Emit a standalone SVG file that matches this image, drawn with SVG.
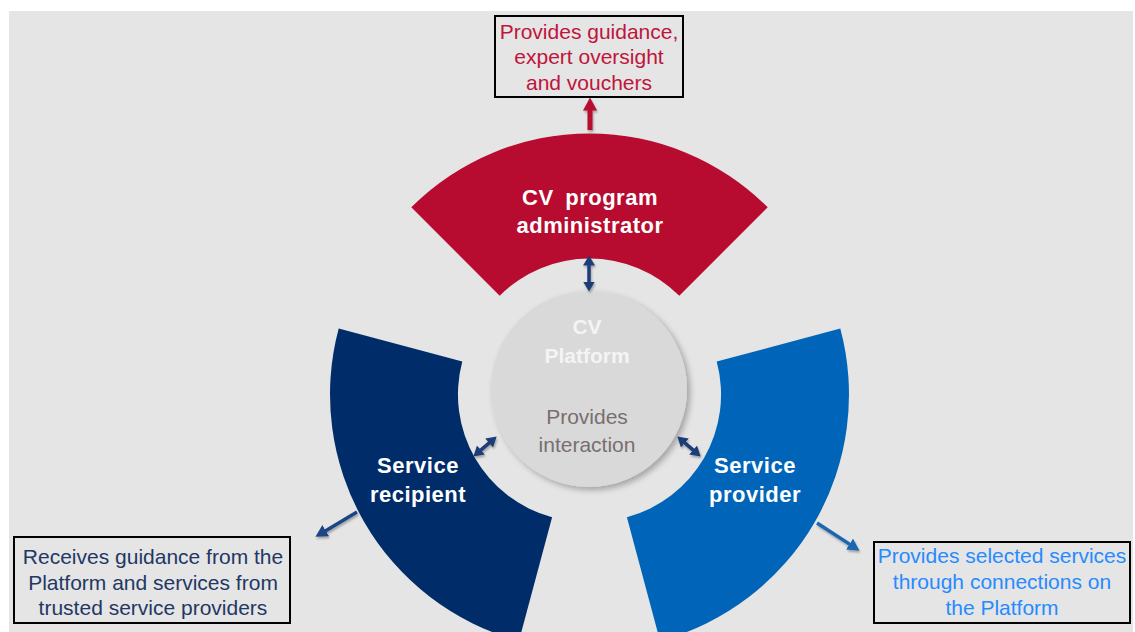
<svg xmlns="http://www.w3.org/2000/svg" width="1135" height="632" viewBox="0 0 1135 632">
  <defs>
    <style>
      .txt { font-family: "Liberation Sans", Arial, sans-serif; text-anchor: middle; }
      .seg-label { font-size: 22px; font-weight: bold; fill: #ffffff; letter-spacing: 0.5px; }
      .note { font-size: 21px; }
      .box { fill: none; stroke: #000000; stroke-width: 2; }
      .conn { fill: none; stroke-linecap: butt; }
    </style>
    <filter id="softShadow" x="-20%" y="-20%" width="140%" height="140%">
      <feGaussianBlur in="SourceAlpha" stdDeviation="3"/>
      <feOffset dx="3" dy="3" result="blur"/>
      <feComponentTransfer><feFuncA type="linear" slope="0.3"/></feComponentTransfer>
      <feMerge><feMergeNode/><feMergeNode in="SourceGraphic"/></feMerge>
    </filter>
    <filter id="arrowShadow" x="-50%" y="-50%" width="200%" height="200%">
      <feGaussianBlur in="SourceAlpha" stdDeviation="1.2"/>
      <feOffset dx="1" dy="1.5" result="blur"/>
      <feComponentTransfer><feFuncA type="linear" slope="0.3"/></feComponentTransfer>
      <feMerge><feMergeNode/><feMergeNode in="SourceGraphic"/></feMerge>
    </filter>
    <marker id="headRed" markerUnits="userSpaceOnUse" viewBox="0 0 13 14" markerWidth="13" markerHeight="14" refX="0.5" refY="7" orient="auto">
      <path d="M0,0 L13,7 L0,14 Z" fill="#b70c2f"/>
    </marker>
    <marker id="headNavySmall" markerUnits="userSpaceOnUse" viewBox="0 0 10 12" markerWidth="10" markerHeight="12" refX="0.5" refY="6" orient="auto-start-reverse">
      <path d="M0,0 L10,6 L0,12 Z" fill="#1f3d78"/>
    </marker>
    <marker id="headNavy" markerUnits="userSpaceOnUse" viewBox="0 0 12 13" markerWidth="12" markerHeight="13" refX="0.5" refY="6.5" orient="auto">
      <path d="M0,0 L12,6.5 L0,13 Z" fill="#1f4585"/>
    </marker>
    <marker id="headBlue" markerUnits="userSpaceOnUse" viewBox="0 0 12 13" markerWidth="12" markerHeight="13" refX="0.5" refY="6.5" orient="auto">
      <path d="M0,0 L12,6.5 L0,13 Z" fill="#1d66b0"/>
    </marker>
  </defs>

  <!-- canvas -->
  <rect x="0" y="0" width="1135" height="632" fill="#ffffff"/>
  <rect x="9" y="11" width="1124" height="621" fill="#e5e5e5"/>

  <!-- ring segment: program administrator -->
  <g id="administrator">
    <path d="M411.3,207.3 A252,252 0 0 1 767.7,207.3 L679.3,295.7 A127,127 0 0 0 499.7,295.7 Z" fill="#b70c2f"/>
    <text class="txt seg-label" x="590" y="205" word-spacing="5">CV program</text>
    <text class="txt seg-label" x="590" y="233">administrator</text>
  </g>

  <!-- ring segment: service recipient -->
  <g id="recipient">
    <path d="M338.7,328.5 A255,255 0 0 0 519,640.8 L552.1,517.2 A127,127 0 0 1 462.3,361.6 Z" fill="#002d6a"/>
    <text class="txt seg-label" x="418" y="473">Service</text>
    <text class="txt seg-label" x="418" y="502" letter-spacing="0">recipient</text>
  </g>

  <!-- ring segment: service provider -->
  <g id="provider">
    <path d="M840.3,328.5 A255,255 0 0 1 660,640.8 L626.9,517.2 A127,127 0 0 0 716.7,361.6 Z" fill="#0065b8"/>
    <text class="txt seg-label" x="755" y="473">Service</text>
    <text class="txt seg-label" x="755" y="502">provider</text>
  </g>

  <!-- hub -->
  <g id="platform">
    <circle cx="589" cy="389" r="98" fill="#d9d9d9" filter="url(#softShadow)"/>
    <text class="txt" x="587" y="334" font-size="21" font-weight="bold" fill="#f4f4f4">CV</text>
    <text class="txt" x="587" y="363" font-size="21" font-weight="bold" fill="#f4f4f4">Platform</text>
    <text class="txt" x="587" y="424" font-size="21" fill="#776f6f">Provides</text>
    <text class="txt" x="587" y="452" font-size="21" fill="#776f6f">interaction</text>
  </g>

  <!-- role descriptions -->
  <g id="note-administrator">
    <rect class="box" x="495" y="16" width="188" height="81"/>
    <text class="txt note" x="589" y="39" fill="#c0143c">Provides guidance,</text>
    <text class="txt note" x="589" y="64" fill="#c0143c">expert oversight</text>
    <text class="txt note" x="589" y="90" fill="#c0143c">and vouchers</text>
  </g>
  <g id="note-recipient">
    <rect class="box" x="14" y="537" width="276" height="86"/>
    <text class="txt note" x="153" y="564" fill="#1f3864">Receives guidance from the</text>
    <text class="txt note" x="153" y="590" fill="#1f3864">Platform and services from</text>
    <text class="txt note" x="153" y="615" fill="#1f3864">trusted service providers</text>
  </g>
  <g id="note-provider">
    <rect class="box" x="874" y="542" width="256" height="81"/>
    <text class="txt note" x="1002" y="563" fill="#268bff">Provides selected services</text>
    <text class="txt note" x="1002" y="589" fill="#268bff">through connections on</text>
    <text class="txt note" x="1002" y="615" fill="#268bff">the Platform</text>
  </g>

  <!-- connectors -->
  <g id="connectors" class="conn" filter="url(#arrowShadow)">
    <line x1="590" y1="130" x2="590" y2="110" stroke="#b70c2f" stroke-width="5" marker-end="url(#headRed)"/>
    <line x1="589" y1="265" x2="589" y2="282" stroke="#1f3d78" stroke-width="3.5" marker-start="url(#headNavySmall)" marker-end="url(#headNavySmall)"/>
    <line x1="480.5" y1="450.4" x2="489.5" y2="442.6" stroke="#1f3d78" stroke-width="3.5" marker-start="url(#headNavySmall)" marker-end="url(#headNavySmall)"/>
    <line x1="684.5" y1="442.6" x2="693.5" y2="450.4" stroke="#1f3d78" stroke-width="3.5" marker-start="url(#headNavySmall)" marker-end="url(#headNavySmall)"/>
    <line x1="357" y1="512" x2="325.3" y2="530.9" stroke="#1f4585" stroke-width="3.5" marker-end="url(#headNavy)"/>
    <line x1="817" y1="523" x2="849.9" y2="544.4" stroke="#1d66b0" stroke-width="3.5" marker-end="url(#headBlue)"/>
  </g>
</svg>
